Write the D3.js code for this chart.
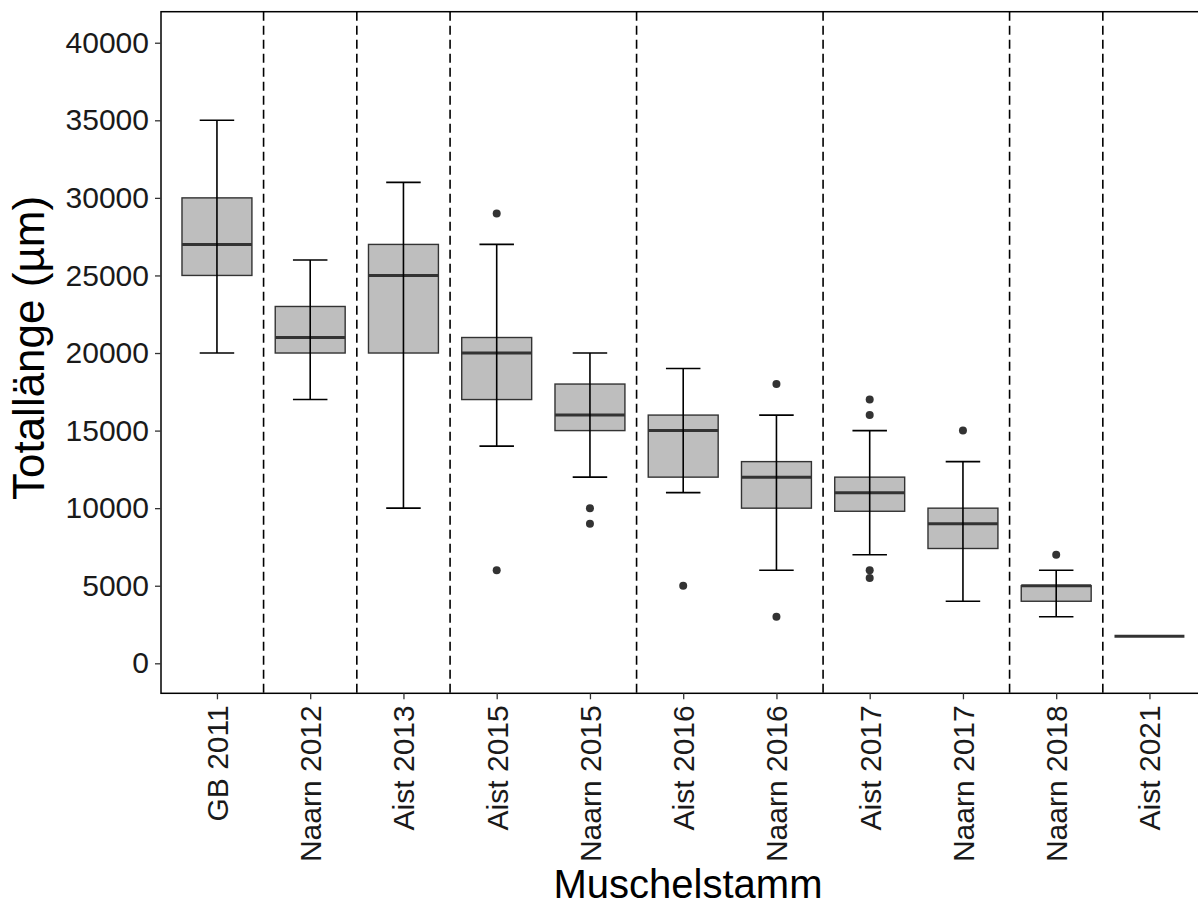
<!DOCTYPE html>
<html>
<head>
<meta charset="utf-8">
<script src="https://cdn.jsdelivr.net/npm/d3@7"></script>
<style>
  body { margin: 0; background: #fff; }
  svg { display: block; font-family: "Liberation Sans", Arial, sans-serif; }
</style>
</head>
<body>
<svg id="chart" width="1198" height="910"></svg>
<script>
// Muschelstamm categories and box statistics (µm)
const categories = ["GB 2011", "Naarn 2012", "Aist 2013", "Aist 2015", "Naarn 2015",
  "Aist 2016", "Naarn 2016", "Aist 2017", "Naarn 2017", "Naarn 2018", "Aist 2021"];
const whiskerLow  = [20000, 17000, 10000, 14000, 12000, 11000,  6000,  7000,  4000, 3000, 1750];
const q1          = [25000, 20000, 20000, 17000, 15000, 12000, 10000,  9800,  7400, 4000, 1750];
const medians     = [27000, 21000, 25000, 20000, 16000, 15000, 12000, 11000,  9000, 5000, 1750];
const q3          = [30000, 23000, 27000, 21000, 18000, 16000, 13000, 12000, 10000, 5000, 1750];
const whiskerHigh = [35000, 26000, 31000, 27000, 20000, 19000, 16000, 15000, 13000, 6000, 1750];
const outliers = [
  [], [], [], [29000, 6000], [10000, 9000], [5000], [18000, 3000],
  [17000, 16000, 6000, 5500], [15000], [7000], []
];
const yTicks = [0, 5000, 10000, 15000, 20000, 25000, 30000, 35000, 40000];

const boxes = categories.map((c, i) => ({
  cat: c, lo: whiskerLow[i], q1: q1[i], med: medians[i], q3: q3[i], hi: whiskerHigh[i], out: outliers[i]
}));

const svg = d3.select("#chart");
const panel = { left: 161, right: 1205.4, top: 11.7, bottom: 693.3 };

const x = d3.scalePoint()
  .domain(categories)
  .range([panel.left, panel.right])
  .padding(0.6);
const step = x.step();

const y = d3.scaleLinear()
  .domain([-1933, 42000])
  .range([panel.bottom, panel.top]);

const g = svg.append("g");

// year separators (dashed) between categories whose year changes
const year = c => c.split(" ")[1];
const seps = [];
for (let i = 0; i < categories.length - 1; i++) {
  if (year(categories[i]) !== year(categories[i + 1])) {
    seps.push((x(categories[i]) + x(categories[i + 1])) / 2);
  }
}
g.selectAll("line.sep").data(seps).enter().append("line")
  .attr("class", "sep")
  .attr("x1", d => d).attr("x2", d => d)
  .attr("y1", panel.top).attr("y2", panel.bottom)
  .attr("stroke", "#000").attr("stroke-width", 1.6)
  .attr("stroke-dasharray", "9,5");

const bw = step * 0.75;
const ew = step * 0.37;

// boxes
const bx = g.selectAll("g.box").data(boxes).enter().append("g").attr("class", "box");
bx.append("rect")
  .attr("x", d => x(d.cat) - bw / 2)
  .attr("width", bw)
  .attr("y", d => y(d.q3))
  .attr("height", d => y(d.q1) - y(d.q3))
  .attr("fill", "#bebebe")
  .attr("stroke", "#333").attr("stroke-width", 1.4);
bx.append("line")
  .attr("x1", d => x(d.cat) - bw / 2).attr("x2", d => x(d.cat) + bw / 2)
  .attr("y1", d => y(d.med)).attr("y2", d => y(d.med))
  .attr("stroke", "#333").attr("stroke-width", 3);

// outliers
bx.selectAll("circle").data(d => d.out.map(v => ({ cat: d.cat, v }))).enter().append("circle")
  .attr("cx", d => x(d.cat)).attr("cy", d => y(d.v)).attr("r", 4)
  .attr("fill", "#333");

// error bars drawn on top
const eb = g.selectAll("g.eb").data(boxes.filter(d => d.hi > d.lo)).enter().append("g").attr("class", "eb");
eb.append("line")
  .attr("x1", d => x(d.cat)).attr("x2", d => x(d.cat))
  .attr("y1", d => y(d.lo)).attr("y2", d => y(d.hi))
  .attr("stroke", "#000").attr("stroke-width", 1.6);
eb.append("line")
  .attr("x1", d => x(d.cat) - ew / 2).attr("x2", d => x(d.cat) + ew / 2)
  .attr("y1", d => y(d.hi)).attr("y2", d => y(d.hi))
  .attr("stroke", "#000").attr("stroke-width", 1.6);
eb.append("line")
  .attr("x1", d => x(d.cat) - ew / 2).attr("x2", d => x(d.cat) + ew / 2)
  .attr("y1", d => y(d.lo)).attr("y2", d => y(d.lo))
  .attr("stroke", "#000").attr("stroke-width", 1.6);

// panel border
svg.append("rect")
  .attr("x", panel.left).attr("y", panel.top)
  .attr("width", panel.right - panel.left).attr("height", panel.bottom - panel.top)
  .attr("fill", "none").attr("stroke", "#000").attr("stroke-width", 1.5);

// axes
const yAxis = d3.axisLeft(y).tickValues(yTicks).tickSize(6).tickPadding(6).tickFormat(d3.format("d"));
const gy = svg.append("g").attr("transform", `translate(${panel.left},0)`).call(yAxis);
gy.select(".domain").remove();
gy.selectAll(".tick line").attr("stroke", "#333").attr("stroke-width", 1.3);
gy.selectAll(".tick text").attr("font-size", 30).attr("fill", "#1a1a1a")
  .attr("font-family", "Liberation Sans, Arial, sans-serif");

const xAxis = d3.axisBottom(x).tickSize(6).tickPadding(6);
const gx = svg.append("g").attr("transform", `translate(0,${panel.bottom})`).call(xAxis);
gx.select(".domain").remove();
gx.selectAll(".tick line").attr("stroke", "#333").attr("stroke-width", 1.3);
gx.selectAll(".tick text")
  .attr("font-size", 30).attr("fill", "#1a1a1a")
  .attr("font-family", "Liberation Sans, Arial, sans-serif")
  .attr("text-anchor", "end")
  .attr("dy", "0.35em")
  .attr("transform", "translate(0,12) rotate(-90)")
  .attr("x", 0).attr("y", 0);

// titles
svg.append("text")
  .attr("x", 688)
  .attr("y", 898)
  .attr("text-anchor", "middle")
  .attr("font-size", 40)
  .attr("fill", "#000")
  .text("Muschelstamm");

svg.append("text")
  .attr("transform", "translate(44,348) rotate(-90)")
  .attr("text-anchor", "middle")
  .attr("font-size", 44)
  .attr("fill", "#000")
  .text("Totallänge (µm)");
</script>
</body>
</html>
